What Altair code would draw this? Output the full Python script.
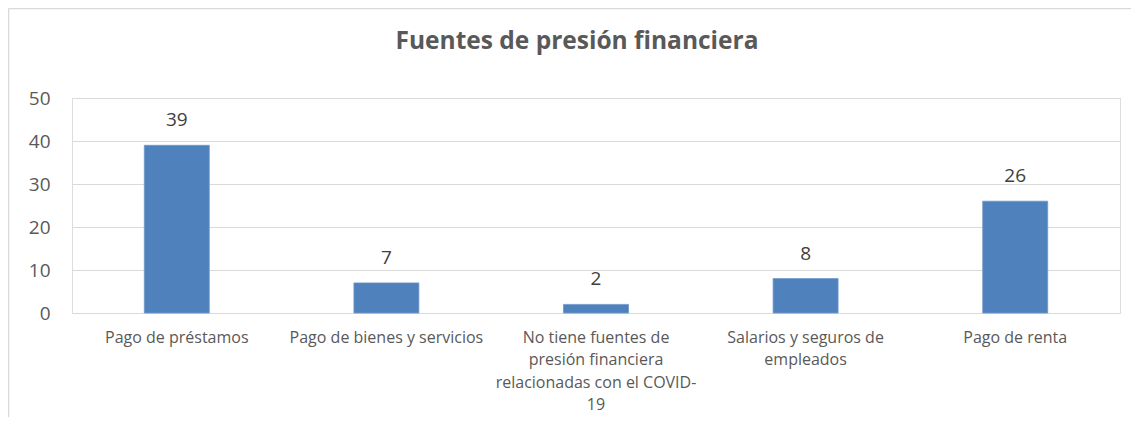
import json
import altair as alt
import pandas as pd

categories = [
    "Pago de préstamos",
    "Pago de bienes y servicios",
    "No tiene fuentes de presión financiera relacionadas con el COVID-19",
    "Salarios y seguros de empleados",
    "Pago de renta",
]
values = [39, 7, 2, 8, 26]
label_lines = [
    ["Pago de préstamos"],
    ["Pago de bienes y servicios"],
    ["No tiene fuentes de", "presión financiera", "relacionadas con el COVID-", "19"],
    ["Salarios y seguros de", "empleados"],
    ["Pago de renta"],
]
y_ticks = [0, 10, 20, 30, 40, 50]
title_text = "Fuentes de presión financiera"

FONT = "Open Sans"
GREY = "#595959"
BLUE = "#4F81BD"

df = pd.DataFrame({"cat": categories, "val": values})
title_df = pd.DataFrame({"t": [title_text]})

parts = []
for c, lines in zip(categories, label_lines):
    parts.append(f"datum.value == {json.dumps(c)} ? {json.dumps(lines)}")
label_expr = " : ".join(parts) + " : datum.value"

W, H = 1048, 215

x = alt.X(
    "cat:N",
    sort=categories,
    scale=alt.Scale(paddingInner=0.69, paddingOuter=0.345),
    axis=alt.Axis(
        title=None,
        labelAngle=0,
        labelExpr=label_expr,
        labelFont=FONT,
        labelFontSize=16,
        labelColor=GREY,
        labelLineHeight=22.5,
        labelPadding=24,
        labelBaseline="middle",
        ticks=False,
        domain=False,
        grid=False,
        labelLimit=300,
    ),
)
y = alt.Y(
    "val:Q",
    scale=alt.Scale(domain=[0, 50]),
    axis=alt.Axis(
        title=None,
        values=y_ticks,
        labelFont=FONT,
        labelFontSize=19,
        labelColor=GREY,
        labelPadding=22,
        ticks=False,
        domain=False,
        grid=True,
        gridColor="#d9d9d9",
        gridWidth=1,
    ),
)

frame_top = alt.Chart(title_df).mark_rule(
    stroke="#d9d9d9", strokeWidth=1.5, clip=False
).encode(x=alt.value(-63.5), x2=alt.value(W + 120), y=alt.value(-89.5))

frame_left = alt.Chart(title_df).mark_rule(
    stroke="#d9d9d9", strokeWidth=1.5, clip=False
).encode(x=alt.value(-63.5), y=alt.value(-89.5), y2=alt.value(H + 250))

title = alt.Chart(title_df).mark_text(
    font=FONT, fontSize=24.5, fontWeight="bold", color=GREY, baseline="middle", align="center"
).encode(x=alt.value(505), y=alt.value(-56), text="t:N")

bars = alt.Chart(df).mark_bar(color=BLUE, stroke="#6f97c9", strokeWidth=0.8).encode(x=x, y=y)

labels = alt.Chart(df).mark_text(
    font=FONT, fontSize=19, color="#404040", baseline="bottom", dy=-15
).encode(x=alt.X("cat:N", sort=categories), y="val:Q", text="val:Q")

chart = (
    alt.layer(frame_top, frame_left, title, bars, labels)
    .properties(
        width=W,
        height=H,
        autosize=alt.AutoSizeParams(type="none"),
        padding={"left": 64, "top": 90, "right": 11, "bottom": 104},
    )
    .configure_view(stroke=None)
    .configure(background="white")
)

chart.save("out.html", embed_options={"renderer": "svg", "actions": False})
